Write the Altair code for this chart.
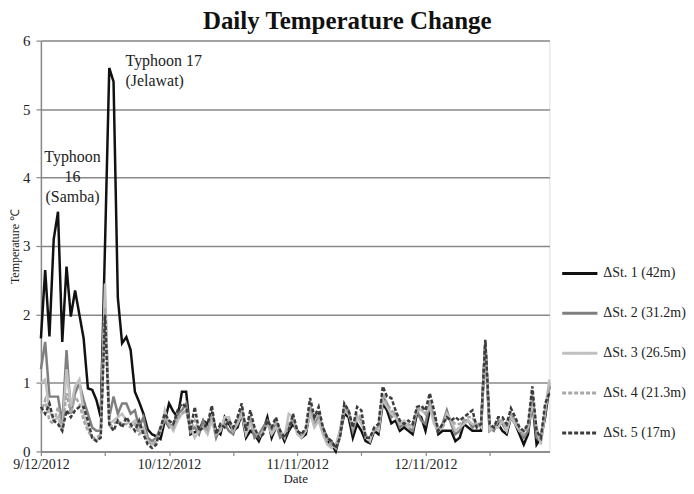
import altair as alt
import pandas as pd

series_names = ["ΔSt. 1 (42m)", "ΔSt. 2 (31.2m)", "ΔSt. 3 (26.5m)", "ΔSt. 4 (21.3m)", "ΔSt. 5 (17m)"]

st1 = [1.65, 2.65, 1.68, 3.1, 3.5, 1.6, 2.7, 1.97, 2.35, 2.0,
       1.65, 0.92, 0.9, 0.75, 0.5, 3.0, 5.6, 5.4, 2.25, 1.58,
       1.67, 1.48, 0.87, 0.72, 0.55, 0.32, 0.25, 0.22, 0.18, 0.45,
       0.7, 0.58, 0.5, 0.87, 0.87, 0.25, 0.28, 0.3, 0.45, 0.4,
       0.55, 0.3, 0.25, 0.5, 0.4, 0.3, 0.35, 0.55, 0.2, 0.3,
       0.25, 0.15, 0.3, 0.5, 0.2, 0.35, 0.3, 0.15, 0.3, 0.4,
       0.3, 0.2, 0.25, 0.6, 0.5, 0.55, 0.3, 0.15, 0.1, 0.0,
       0.25, 0.55, 0.5, 0.2, 0.4, 0.3, 0.15, 0.12, 0.3, 0.25,
       0.7, 0.6, 0.41, 0.45, 0.3, 0.35, 0.3, 0.25, 0.55, 0.5,
       0.3, 0.6, 0.5, 0.25, 0.3, 0.3, 0.3, 0.15, 0.2, 0.4,
       0.35, 0.3, 0.3, 0.3, 1.6, 0.3, 0.35, 0.4, 0.3, 0.25,
       0.5, 0.4, 0.25, 0.1, 0.25, 0.75, 0.1, 0.2, 0.5, 0.95]

st2 = [1.2, 1.6, 0.8, 0.8, 0.8, 0.4, 1.48, 0.55, 0.85, 1.0,
       0.75, 0.55, 0.35, 0.3, 0.3, 2.2, 0.5, 0.8, 0.55, 0.7,
       0.7, 0.55, 0.6, 0.35, 0.5, 0.2, 0.15, 0.2, 0.35, 0.45,
       0.35, 0.4, 0.55, 0.6, 0.7, 0.3, 0.35, 0.25, 0.45, 0.3,
       0.5, 0.2, 0.35, 0.4, 0.3, 0.25, 0.45, 0.6, 0.3, 0.45,
       0.2, 0.25, 0.35, 0.45, 0.3, 0.4, 0.2, 0.25, 0.35, 0.45,
       0.3, 0.25, 0.3, 0.65, 0.4, 0.5, 0.35, 0.2, 0.15, 0.05,
       0.3, 0.65, 0.6, 0.3, 0.5, 0.45, 0.2, 0.2, 0.3, 0.35,
       0.8, 0.7, 0.5, 0.55, 0.35, 0.4, 0.35, 0.3, 0.6, 0.45,
       0.4, 0.7, 0.45, 0.3, 0.4, 0.6, 0.4, 0.25, 0.3, 0.45,
       0.45, 0.35, 0.4, 0.4, 1.58, 0.35, 0.3, 0.45, 0.4, 0.3,
       0.55, 0.45, 0.3, 0.2, 0.3, 0.8, 0.2, 0.15, 0.55, 1.0]

st3 = [1.0, 1.05, 0.6, 0.45, 0.5, 0.3, 1.2, 0.65, 0.95, 1.05,
       0.55, 0.35, 0.2, 0.15, 0.25, 2.45, 0.4, 0.45, 0.5, 0.55,
       0.45, 0.4, 0.45, 0.3, 0.35, 0.15, 0.1, 0.15, 0.3, 0.6,
       0.4, 0.3, 0.45, 0.55, 0.6, 0.35, 0.2, 0.3, 0.35, 0.25,
       0.45, 0.25, 0.3, 0.5, 0.5, 0.3, 0.4, 0.55, 0.25, 0.4,
       0.3, 0.2, 0.3, 0.4, 0.25, 0.35, 0.3, 0.2, 0.55, 0.5,
       0.25, 0.2, 0.3, 0.55, 0.35, 0.45, 0.25, 0.1, 0.05, 0.1,
       0.3, 0.6, 0.55, 0.35, 0.5, 0.4, 0.25, 0.15, 0.35, 0.3,
       0.75, 0.65, 0.55, 0.5, 0.4, 0.45, 0.35, 0.4, 0.6, 0.6,
       0.55, 0.65, 0.4, 0.3, 0.35, 0.55, 0.45, 0.3, 0.35, 0.4,
       0.45, 0.4, 0.4, 0.35, 1.55, 0.3, 0.35, 0.35, 0.45, 0.3,
       0.5, 0.4, 0.3, 0.3, 0.35, 0.7, 0.35, 0.1, 0.6, 1.05]

st4 = [0.55, 0.75, 0.45, 0.4, 0.65, 0.3, 0.85, 0.55, 0.8, 0.7,
       0.45, 0.3, 0.2, 0.2, 0.25, 2.1, 0.35, 0.4, 0.45, 0.4,
       0.4, 0.35, 0.4, 0.25, 0.3, 0.15, 0.1, 0.15, 0.3, 0.5,
       0.4, 0.35, 0.5, 0.55, 0.6, 0.3, 0.45, 0.3, 0.35, 0.3,
       0.55, 0.25, 0.35, 0.4, 0.45, 0.3, 0.45, 0.6, 0.3, 0.5,
       0.3, 0.2, 0.3, 0.4, 0.3, 0.45, 0.3, 0.2, 0.4, 0.5,
       0.3, 0.25, 0.3, 0.65, 0.45, 0.55, 0.3, 0.15, 0.1, 0.05,
       0.25, 0.65, 0.55, 0.35, 0.55, 0.5, 0.2, 0.2, 0.3, 0.35,
       0.85, 0.7, 0.6, 0.55, 0.4, 0.4, 0.4, 0.35, 0.6, 0.65,
       0.55, 0.75, 0.5, 0.3, 0.35, 0.5, 0.45, 0.4, 0.4, 0.45,
       0.5, 0.5, 0.35, 0.4, 1.6, 0.35, 0.35, 0.45, 0.45, 0.35,
       0.55, 0.45, 0.3, 0.25, 0.35, 0.85, 0.3, 0.15, 0.6, 0.95]

st5 = [0.65, 0.55, 0.7, 0.45, 0.4, 0.3, 0.6, 0.5, 0.6, 0.65,
       0.65, 0.45, 0.2, 0.15, 0.2, 2.0, 0.4, 0.3, 0.45, 0.35,
       0.5, 0.4, 0.3, 0.45, 0.25, 0.1, 0.05, 0.1, 0.35, 0.55,
       0.45, 0.4, 0.6, 0.7, 0.65, 0.3, 0.65, 0.3, 0.35, 0.4,
       0.67, 0.25, 0.4, 0.35, 0.45, 0.35, 0.5, 0.7, 0.3, 0.6,
       0.35, 0.2, 0.25, 0.45, 0.35, 0.5, 0.3, 0.2, 0.3, 0.55,
       0.3, 0.25, 0.35, 0.78, 0.5, 0.65, 0.35, 0.2, 0.15, 0.05,
       0.2, 0.7, 0.6, 0.35, 0.65, 0.6, 0.2, 0.2, 0.35, 0.4,
       0.95, 0.8, 0.78, 0.6, 0.45, 0.4, 0.45, 0.4, 0.65, 0.67,
       0.6, 0.85, 0.6, 0.3, 0.4, 0.5, 0.45, 0.5, 0.45, 0.5,
       0.55, 0.6, 0.35, 0.4, 1.63, 0.4, 0.35, 0.5, 0.5, 0.4,
       0.63, 0.5, 0.35, 0.3, 0.4, 0.95, 0.3, 0.2, 0.7, 0.85]

series_values = [st1, st2, st3, st4, st5]
series_colors = ["#111111", "#7f7f7f", "#c0c0c0", "#a8a8a8", "#3c3c3c"]
series_dashes = [[1, 0], [1, 0], [1, 0], [4, 2], [4, 2]]

tick_days = [0, 15, 30, 45, 60, 75, 90, 105]
label_days = [0, 30, 60, 90]
label_texts = ["9/12/2012", "10/12/2012", "11/11/2012", "12/11/2012"]

ann_texts = ["Typhoon 17", "(Jelawat)", "Typhoon", "16", "(Samba)"]
ann_day = [19.8, 19.8, 7.4, 7.4, 7.4]
ann_val = [5.7, 5.41, 4.3, 4.01, 3.72]
ann_align = ["left", "left", "center", "center", "center"]

rows = []
for name, vals in zip(series_names, series_values):
    for d, v in enumerate(vals):
        rows.append({"day": d, "value": v, "series": name})
df = pd.DataFrame(rows)

label_expr = " : ".join(
    [f"datum.value == {d} ? '{t}'" for d, t in zip(label_days, label_texts)]
) + " : ''"

FONT = "Liberation Serif"

x_enc = alt.X(
    "day:Q",
    scale=alt.Scale(domain=[0, 119], nice=False, zero=False),
    axis=alt.Axis(
        title="Date", values=tick_days, labelExpr=label_expr, grid=False,
        domainColor="#888888", domainWidth=1.5, tickColor="#888888", tickWidth=1.2,
        tickSize=4, labelFont=FONT, labelFontSize=14, labelColor="#222222",
        titleFont=FONT, titleFontSize=13, titleFontWeight="normal", titleColor="#222222",
        labelPadding=2, titlePadding=1, labelFlush=False,
    ),
)

legend_opts = dict(
    title=None, orient="none", legendX=521, legendY=214,
    symbolType="stroke", symbolSize=1250, symbolStrokeWidth=3,
    labelFont=FONT, labelFontSize=14, labelColor="#222222",
    rowPadding=13, labelOffset=4,
)

lines = alt.Chart(df).mark_line(strokeWidth=2.5).encode(
    x=x_enc,
    y=alt.Y(
        "value:Q",
        scale=alt.Scale(domain=[0, 6], nice=False),
        axis=alt.Axis(
            title="Temperature  ℃", values=[0, 1, 2, 3, 4, 5, 6], format="d", grid=True,
            gridColor="#888888", gridWidth=1.5, domainColor="#888888", domainWidth=1.5,
            tickColor="#888888", tickWidth=1.2, tickSize=5,
            labelFont=FONT, labelFontSize=15, labelColor="#222222", labelPadding=6,
            titleFont=FONT, titleFontSize=12, titleFontWeight="normal", titleColor="#222222",
            titlePadding=1,
        ),
    ),
    color=alt.Color(
        "series:N",
        scale=alt.Scale(domain=series_names, range=series_colors),
        legend=alt.Legend(**legend_opts),
    ),
    strokeDash=alt.StrokeDash(
        "series:N",
        scale=alt.Scale(domain=series_names, range=series_dashes),
        legend=alt.Legend(**legend_opts),
    ),
    order=alt.Order("series:N"),
)

ann_df = pd.DataFrame({"text": ann_texts, "day": ann_day, "value": ann_val, "align": ann_align})

ann_left = alt.Chart(ann_df[ann_df["align"] == "left"]).mark_text(
    align="left", baseline="middle", font=FONT, fontSize=16, color="#222222"
).encode(x="day:Q", y="value:Q", text="text:N")

ann_center = alt.Chart(ann_df[ann_df["align"] == "center"]).mark_text(
    align="center", baseline="middle", font=FONT, fontSize=16, color="#222222"
).encode(x="day:Q", y="value:Q", text="text:N")

chart = alt.layer(lines, ann_left, ann_center).properties(
    width=510,
    height=412,
    title=alt.Title(
        "Daily Temperature Change", font=FONT, fontSize=25, fontWeight="bold",
        color="#111111", anchor="middle", frame="bounds", offset=0,
    ),
    padding={"left": 0, "top": 0, "right": 0, "bottom": 0},
).configure_view(stroke=None).configure(background="white")

chart.save("out.html", embed_options={"renderer": "svg", "actions": False})
